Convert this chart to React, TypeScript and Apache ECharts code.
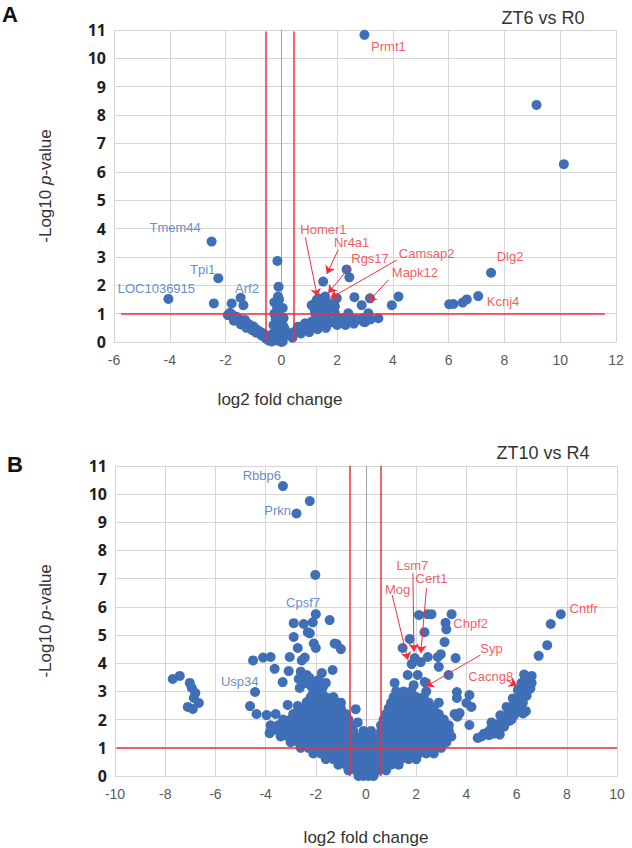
import React, { useEffect, useRef } from "react";
import * as echarts from "echarts";

// ---------- Panel A data (ZT6 vs R0) ----------
const aPoints: [number, number][] = [
  [-4.05, 1.52], [-2.5, 3.54], [-2.26, 2.25], [-2.42, 1.36],
  [-1.78, 1.36], [-1.46, 1.56], [-1.36, 1.3], [-1.84, 1.03], [-1.92, 0.95], [-1.6, 0.89],
  [-1.75, 0.95], [-1.5, 0.8], [-1.3, 0.78], [-1.4, 0.7], [-1.2, 0.65], [-1.12, 0.6],
  [-1.0, 0.55], [-0.94, 0.48], [-0.85, 0.42], [-0.76, 0.36], [-0.68, 0.32], [-0.58, 0.25],
  [-0.5, 0.2], [-0.4, 0.13], [-0.3, 0.1], [-0.2, 0.06],
  [-1.7, 0.75], [-1.45, 0.62], [-1.25, 0.5], [-1.05, 0.42], [-0.9, 0.33], [-0.7, 0.22],
  [-0.55, 0.12], [-0.45, 0.05], [-0.35, 0.02],
  [-0.14, 2.86], [-0.1, 1.95], [-0.12, 1.6], [-0.08, 1.5], [-0.12, 1.36], [-0.15, 1.2],
  [-0.1, 1.1], [-0.18, 0.95], [-0.05, 0.9], [-0.2, 0.8], [-0.02, 0.75], [-0.15, 0.65],
  [0.05, 0.6], [-0.1, 0.5], [0.1, 0.5], [-0.18, 0.4], [0.15, 0.4], [-0.05, 0.3], [0.2, 0.3],
  [-0.15, 0.2], [0.1, 0.2], [0, 0.1], [-0.08, 0.05], [0.05, 0.02], [0, 0],
  [-0.25, 1.4], [-0.25, 1.0], [-0.28, 0.6], [0.05, 1.2], [0.08, 0.85], [-0.3, 0.3],
  [0.3, 0.25], [0.45, 0.35], [0.61, 0.4], [0.75, 0.45], [0.85, 0.5], [0.97, 0.45],
  [1.09, 0.55], [1.2, 0.6], [1.35, 0.65], [1.5, 0.6], [1.68, 0.66], [1.8, 0.7],
  [0.6, 0.54], [0.85, 0.66], [1.09, 0.72], [1.3, 0.75], [1.55, 0.75], [1.95, 0.72],
  [0.4, 0.15], [0.7, 0.3], [1.0, 0.35], [1.3, 0.45], [1.6, 0.5], [2.0, 0.6],
  [2.3, 0.6], [2.6, 0.65], [3.0, 0.7],
  [1.21, 1.36], [1.33, 1.54], [1.5, 2.13], [1.57, 1.6], [1.45, 1.45], [1.2, 1.15],
  [1.3, 1.25], [1.4, 1.3], [1.09, 1.3], [1.27, 1.48], [1.99, 1.54], [1.92, 1.25],
  [1.21, 1.01], [1.5, 1.0], [1.7, 1.05], [1.92, 1.01], [1.3, 0.9], [1.6, 0.85],
  [1.6, 1.2], [1.75, 1.35], [1.4, 1.1],
  [2.16, 0.84], [2.4, 1.01], [2.52, 0.78], [2.3, 0.7], [2.88, 1.3], [2.94, 0.84],
  [2.94, 0.72], [3.18, 1.54], [3.12, 1.01], [3.48, 0.84], [2.62, 1.58], [2.34, 2.56],
  [2.44, 2.28], [2.7, 0.8], [2.45, 0.9], [3.2, 0.8],
  [3.96, 1.3], [4.2, 1.6],
  [6.02, 1.33], [6.17, 1.34], [6.5, 1.39], [6.65, 1.5], [7.06, 1.62], [7.52, 2.44],
  [2.98, 10.83], [9.15, 8.36], [10.13, 6.27],
];

// label: name, x, y, colour key (b = blue, r = red)
const aLabels: [string, number, number, string][] = [
  ["Tmem44", -3.81, 4.05, "b"],
  ["Tpi1", -2.82, 2.54, "b"],
  ["LOC1036915", -4.48, 1.89, "b"],
  ["Arf2", -1.23, 1.9, "b"],
  ["Prmt1", 3.84, 10.42, "r"],
  ["Homer1", 1.51, 3.95, "r"],
  ["Nr4a1", 2.52, 3.5, "r"],
  ["Rgs17", 3.18, 2.95, "r"],
  ["Camsap2", 5.21, 3.13, "r"],
  ["Mapk12", 4.79, 2.44, "r"],
  ["Dlg2", 8.2, 3.03, "r"],
  ["Kcnj4", 7.95, 1.42, "r"],
];
// arrows: x1, y1 (tail), x2, y2 (head)
const aArrows: [number, number, number, number][] = [
  [0.86, 3.69, 1.29, 1.6],
  [2.04, 3.25, 1.63, 2.4],
  [2.46, 2.66, 1.68, 1.72],
  [4.14, 2.89, 1.75, 1.54],
  [3.84, 2.19, 3.12, 1.42],
];
const aFoldThresholds = [-0.57, 0.46];
const aPThreshold = 1;
const aPLineRange = [-5.75, 11.6];

// ---------- Panel B data (ZT10 vs R4) ----------
const bScatter: [number, number][] = [
  [-3.31, 10.28], [-2.24, 9.75], [-2.77, 9.31], [-2.02, 7.13],
  [-2.0, 5.74], [-1.45, 5.53], [-2.88, 5.42], [-2.48, 5.39], [-2.12, 5.45], [-2.32, 5.1],
  [-2.24, 5.06], [-2.88, 4.93], [-2.08, 4.7], [-2.0, 4.54], [-2.72, 4.54], [-1.17, 4.68],
  [-1.25, 4.7], [-1.0, 4.5], [-3.04, 4.22], [-2.44, 4.2], [-2.56, 4.1], [-4.5, 4.1],
  [-4.1, 4.2], [-3.8, 4.22], [-3.64, 3.8], [-3.08, 3.72], [-2.6, 3.7], [-1.33, 3.76],
  [-2.68, 3.44], [-2.36, 3.58], [-3.32, 3.33], [-2.64, 3.12], [-1.76, 3.65], [-2.04, 3.3],
  [-2.24, 3.47], [-1.73, 3.12], [-4.42, 2.98], [-4.62, 2.48], [-4.36, 2.2], [-3.96, 2.16],
  [-3.6, 2.2], [-3.12, 2.52], [-2.72, 2.48], [-2.36, 2.62], [-1.0, 2.6], [-0.41, 2.37],
  [-0.33, 1.9], [-2.2, 3.2], [-1.9, 3.4], [-2.0, 3.05], [-1.6, 3.3], [-2.4, 3.3],
  [-3.84, 1.52], [-3.76, 1.74], [-3.24, 1.45],
  [-7.7, 3.44], [-7.42, 3.55], [-7.02, 3.3], [-6.94, 3.12], [-6.8, 2.94], [-6.86, 2.77],
  [-6.66, 2.59], [-7.1, 2.45], [-6.9, 2.38],
  [2.11, 5.71], [2.46, 5.74], [2.61, 5.74], [3.41, 5.74], [3.17, 5.43], [3.2, 5.2],
  [2.33, 5.1], [3.13, 4.75], [1.74, 4.86], [1.46, 4.54], [1.94, 4.18], [1.82, 3.97],
  [2.18, 4.04], [2.46, 4.22], [2.86, 4.22], [2.98, 4.32], [3.57, 4.18], [2.9, 3.87],
  [1.66, 3.58], [2.06, 3.58], [1.14, 3.3], [1.9, 3.22], [2.34, 3.33], [3.29, 3.58],
  [3.62, 2.98], [4.12, 2.87], [4.0, 2.59], [3.62, 2.77], [3.73, 2.23], [3.53, 2.2],
  [4.12, 1.81], [3.64, 2.1], [4.2, 2.45],
  [7.76, 5.74], [7.36, 5.39], [7.22, 4.64], [6.88, 4.26],
  [4.45, 1.35], [4.6, 1.4], [4.7, 1.5], [4.85, 1.55], [4.95, 1.65], [5.1, 1.7], [5.2, 1.8],
  [5.3, 1.85], [5.4, 1.95], [5.5, 2.05], [5.6, 2.15], [5.7, 2.3], [5.8, 2.4], [5.9, 2.55],
  [6.0, 2.7], [6.1, 2.85], [6.2, 3.0], [6.3, 3.15], [6.4, 3.3], [6.5, 3.45], [6.6, 3.55],
  [4.9, 1.45], [5.1, 1.5], [5.33, 1.47], [5.3, 1.6], [5.5, 1.75], [5.7, 1.95], [5.8, 2.0],
  [5.9, 2.15], [6.1, 2.4], [6.26, 2.22], [6.37, 2.3], [6.25, 2.6], [6.4, 2.85], [6.55, 3.1],
  [6.6, 3.3], [5.0, 1.9], [5.35, 2.15], [5.6, 2.45], [5.85, 2.75], [6.05, 3.05], [6.2, 3.3],
  [6.35, 3.45], [6.3, 3.6],
];
// dense cloud rows: [y, x values]
const bDenseRows: [number, number[]][] = [
  [0.0, [-0.3, -0.1, 0.1, 0.3]],
  [0.2, [-0.7, -0.4, -0.1, 0.2, 0.5, 0.8]],
  [0.4, [-1.1, -0.8, -0.5, -0.2, 0.1, 0.4, 0.7, 1.0, 1.3]],
  [0.6, [-1.6, -1.3, -1.0, -0.7, -0.4, -0.1, 0.2, 0.5, 0.8, 1.1, 1.4, 1.7, 2.0]],
  [0.8, [-2.1, -1.8, -1.5, -1.2, -0.9, -0.6, -0.3, 0, 0.3, 0.6, 0.9, 1.2, 1.5, 1.8, 2.1, 2.4, 2.7]],
  [1.0, [-2.6, -2.3, -2.0, -1.7, -1.4, -1.1, -0.8, -0.5, -0.2, 0.1, 0.4, 0.7, 1.0, 1.3, 1.6, 1.9, 2.2, 2.5, 2.8, 3.0]],
  [1.2, [-3.0, -2.7, -2.4, -2.1, -1.8, -1.5, -1.2, -0.9, -0.6, -0.3, 0, 0.3, 0.6, 0.9, 1.2, 1.5, 1.8, 2.1, 2.4, 2.7, 3.0, 3.2]],
  [1.4, [-3.4, -3.1, -2.8, -2.5, -2.2, -1.9, -1.6, -1.3, -1.0, -0.7, -0.4, -0.1, 0.2, 0.5, 0.8, 1.1, 1.4, 1.7, 2.0, 2.3, 2.6, 2.9, 3.2, 3.4]],
  [1.6, [-3.8, -3.5, -3.2, -2.9, -2.6, -2.3, -2.0, -1.7, -1.4, -1.1, -0.8, -0.5, -0.1, 0.2, 0.6, 0.9, 1.2, 1.5, 1.8, 2.1, 2.4, 2.7, 3.0, 3.3]],
  [1.8, [-3.8, -3.5, -3.2, -2.9, -2.6, -2.3, -2.0, -1.7, -1.4, -1.1, -0.8, -0.6, 0.6, 0.9, 1.2, 1.5, 1.8, 2.1, 2.4, 2.7, 3.0, 3.3]],
  [2.0, [-3.3, -3.0, -2.7, -2.4, -2.1, -1.8, -1.5, -1.2, -0.9, -0.7, 0.7, 1.0, 1.3, 1.6, 1.9, 2.2, 2.5, 2.8, 3.1]],
  [2.2, [-2.9, -2.6, -2.3, -2.0, -1.7, -1.4, -1.1, -0.8, 0.8, 1.1, 1.4, 1.7, 2.0, 2.3, 2.6, 2.9]],
  [2.4, [-2.5, -2.2, -1.9, -1.6, -1.3, -1.0, 0.9, 1.2, 1.5, 1.8, 2.1, 2.4, 2.7]],
  [2.6, [-2.3, -2.0, -1.7, -1.4, -1.1, 1.0, 1.3, 1.6, 1.9, 2.2, 2.5, 2.9]],
  [2.8, [-2.2, -1.9, -1.6, -1.3, 1.1, 1.4, 1.7, 2.0, 2.3]],
  [3.0, [-2.1, -1.8, 1.2, 1.5, 1.8, 2.4]],
];
const bLabels: [string, number, number, string][] = [
  ["Rbbp6", -4.15, 10.67, "b"],
  ["Prkn", -3.52, 9.43, "b"],
  ["Cpsf7", -2.51, 6.16, "b"],
  ["Usp34", -5.03, 3.34, "b"],
  ["Lsm7", 1.85, 7.48, "r"],
  ["Cert1", 2.61, 6.99, "r"],
  ["Mog", 1.26, 6.6, "r"],
  ["Chpf2", 4.17, 5.41, "r"],
  ["Syp", 5.0, 4.53, "r"],
  ["Cacng8", 4.97, 3.52, "r"],
  ["Cntfr", 8.67, 5.95, "r"],
];
const bArrows: [number, number, number, number][] = [
  [1.87, 7.19, 1.91, 4.41],
  [2.41, 6.66, 2.18, 4.35],
  [1.04, 6.42, 1.67, 4.11],
  [4.56, 4.29, 2.38, 3.17],
  [5.59, 3.4, 6.02, 3.2],
];
const bFoldThresholds = [-0.65, 0.58];
const bPThreshold = 1;
const bPLineRange = [-9.95, 10];

const BLUE_PT = "#3F6FB6";
const BLUE_TXT = "#3E6DBE";
const RED = "#F0303C";
const GRID = "#d6d6d6";
const SANS = "Liberation Sans, Arial, sans-serif";

function App() {
  const ref = useRef<HTMLDivElement>(null);
  useEffect(() => {
    if (!ref.current) return;
    const chart = echarts.init(ref.current, undefined, { renderer: "svg" });

    const bPoints: [number, number][] = [...bScatter];
    bDenseRows.forEach(([y, xs]) => xs.forEach((x) => bPoints.push([x, y])));

    const xAxisBase = (idx: number, min: number, max: number) => ({
      type: "value",
      gridIndex: idx,
      min,
      max,
      interval: 2,
      axisLine: { show: true, lineStyle: { color: GRID, width: 1 } },
      axisTick: { show: false },
      splitLine: { show: true, lineStyle: { color: GRID, width: 1 } },
      axisLabel: { color: "#595959", fontSize: 14, fontFamily: SANS, margin: 11 },
    });
    const yAxisBase = (idx: number, gap: number) => ({
      type: "value",
      gridIndex: idx,
      min: 0,
      max: 11,
      interval: 1,
      name: "-Log10 {i|p}-value",
      nameLocation: "middle",
      nameGap: gap,
      nameTextStyle: {
        fontSize: 17,
        color: "#333",
        fontFamily: SANS,
        rich: { i: { fontStyle: "italic", fontSize: 17, color: "#333", fontFamily: SANS } },
      },
      axisLine: { show: true, lineStyle: { color: GRID, width: 1 } },
      axisTick: { show: false },
      splitLine: { show: true, lineStyle: { color: GRID, width: 1 } },
      axisLabel: { color: "#1e1e1e", fontSize: 16, fontWeight: "bold", fontFamily: "Open Sans, sans-serif", margin: 8 },
    });

    const panelSeries = (
      idx: number,
      pts: [number, number][],
      labels: [string, number, number, string][],
      arrows: [number, number, number, number][],
      fold: number[],
      pth: number,
      prange: number[],
      vTop: number
    ) => [
      {
        type: "line",
        xAxisIndex: idx,
        yAxisIndex: idx,
        data: [],
        markLine: {
          silent: true,
          z: 1,
          symbol: "none",
          label: { show: false },
          lineStyle: { color: "#a3a3a3", width: 1, type: "solid" },
          data: [[{ coord: [0, 0] }, { coord: [0, 11] }]],
        },
      },
      {
        type: "scatter",
        xAxisIndex: idx,
        yAxisIndex: idx,
        data: pts,
        symbolSize: 10,
        itemStyle: { color: BLUE_PT, opacity: 1 },
        z: 2,
      },
      {
        type: "line",
        xAxisIndex: idx,
        yAxisIndex: idx,
        data: [],
        markLine: {
          silent: true,
          symbol: "none",
          label: { show: false },
          lineStyle: { color: RED, width: 1.5, type: "solid" },
          data: [
            [{ coord: [fold[0], 0] }, { coord: [fold[0], vTop] }],
            [{ coord: [fold[1], 0] }, { coord: [fold[1], vTop] }],
            [{ coord: [prange[0], pth] }, { coord: [prange[1], pth] }],
          ],
        },
      },
      {
        type: "line",
        xAxisIndex: idx,
        yAxisIndex: idx,
        data: [],
        markLine: {
          silent: true,
          symbol: ["none", "arrow"],
          symbolSize: 8,
          label: { show: false },
          lineStyle: { color: RED, width: 1, type: "solid" },
          data: arrows.map((a) => [{ coord: [a[0], a[1]] }, { coord: [a[2], a[3]] }]),
        },
      },
      {
        type: "scatter",
        xAxisIndex: idx,
        yAxisIndex: idx,
        symbolSize: 1,
        itemStyle: { color: "rgba(0,0,0,0)" },
        z: 6,
        data: labels.map((l) => ({
          name: l[0],
          value: [l[1], l[2]],
          label: { color: l[3] === "b" ? BLUE_TXT : RED },
        })),
        label: {
          show: true,
          position: "inside",
          formatter: (p: any) => p.name,
          fontSize: 13,
          fontFamily: SANS,
          textBorderWidth: 0,
          textBorderColor: "transparent",
          textShadowBlur: 0,
        },
      },
    ];

    chart.setOption({
      animation: false,
      grid: [
        { left: 114, top: 30, width: 502, height: 312 },
        { left: 115, top: 465.8, width: 502, height: 310.2 },
      ],
      xAxis: [
        xAxisBase(0, -6, 12),
        {
          ...xAxisBase(1, -10, 10),
          name: "log2 fold change",
          nameLocation: "middle",
          nameGap: 53,
          nameTextStyle: { fontSize: 17, color: "#333", fontFamily: SANS },
        },
      ],
      yAxis: [yAxisBase(0, 60), yAxisBase(1, 61)],
      series: [
        ...panelSeries(0, aPoints, aLabels, aArrows, aFoldThresholds, aPThreshold, aPLineRange, 10.95),
        ...panelSeries(1, bPoints, bLabels, bArrows, bFoldThresholds, bPThreshold, bPLineRange, 11),
      ],
      graphic: [
        {
          type: "text",
          x: 10,
          y: 14,
          style: { text: "A", fontSize: 22, fontWeight: "bold", fontFamily: SANS, fill: "#111", align: "center", verticalAlign: "middle" },
        },
        {
          type: "text",
          x: 15,
          y: 464,
          style: { text: "B", fontSize: 22, fontWeight: "bold", fontFamily: SANS, fill: "#111", align: "center", verticalAlign: "middle" },
        },
        {
          type: "text",
          x: 543,
          y: 18,
          style: { text: "ZT6 vs R0", fontSize: 18, fontFamily: SANS, fill: "#333", align: "center", verticalAlign: "middle" },
        },
        {
          type: "text",
          x: 543,
          y: 453,
          style: { text: "ZT10 vs R4", fontSize: 18, fontFamily: SANS, fill: "#333", align: "center", verticalAlign: "middle" },
        },
        {
          type: "text",
          x: 280,
          y: 399,
          style: { text: "log2 fold change", fontSize: 17, fontFamily: SANS, fill: "#333", align: "center", verticalAlign: "middle" },
        },
      ],
    });
    return () => chart.dispose();
  }, []);
  return (
    <div
      ref={ref}
      style={{ position: "absolute", left: 0, top: 0, width: 632, height: 848, background: "#fff" }}
    />
  );
}

export default App;
